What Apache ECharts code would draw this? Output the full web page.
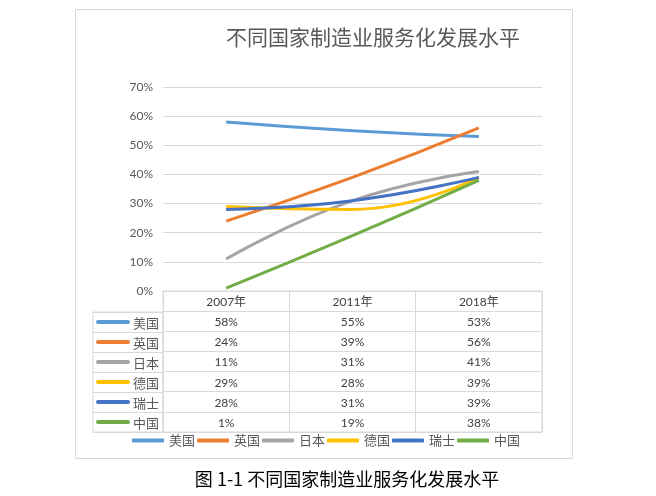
<!DOCTYPE html>
<html><head><meta charset="utf-8">
<script src="https://cdn.jsdelivr.net/npm/echarts@6/dist/echarts.min.js"></script>
<style>html,body{margin:0;padding:0;background:#fff}#c{width:656px;height:496px}</style>
</head><body><div id="c"></div>
<script>
const categories = ['2007年', '2011年', '2018年'];
const countries = ['美国', '英国', '日本', '德国', '瑞士', '中国'];
const usa = [58, 55, 53];
const uk = [24, 39, 56];
const japan = [11, 31, 41];
const germany = [29, 28, 39];
const swiss = [28, 31, 39];
const china = [1, 19, 38];
const yMin = 0, yMax = 70, yStep = 10;
const colors = ['#5B9BD5', '#ED7D31', '#A5A5A5', '#FFC000', '#4472C4', '#70AD47'];
const seriesValues = [usa, uk, japan, germany, swiss, china];

const FONT = 'Lato, "Noto Sans CJK SC", sans-serif';
const CJK = '"Noto Sans CJK SC", sans-serif';
const GRID_LINE = '#d9d9d9';

// table cells
const cellData = [], cellText = [];
categories.forEach((c, i) => { cellData.push([i, 0]); cellText.push(c); });
seriesValues.forEach((vals, r) => vals.forEach((v, i) => { cellData.push([i, r + 1]); cellText.push(v + '%'); }));
const rowData = countries.map((c, r) => [0, r]);

const chart = echarts.init(document.getElementById('c'), null, {renderer: 'canvas'});
chart.setOption({
  animation: false,
  backgroundColor: '#fff',
  color: colors,
  title: {
    text: '不同国家制造业服务化发展水平',
    left: 221, top: 22,
    textStyle: {fontSize: 21, fontWeight: 'normal', color: '#595959', fontFamily: CJK}
  },
  legend: {
    data: countries,
    left: 127, top: 429,
    icon: 'roundRect', itemWidth: 32, itemHeight: 4, itemGap: 2,
    textStyle: {fontSize: 13, color: '#595959', fontFamily: CJK}
  },
  grid: [
    {left: 163, width: 379, top: 87, height: 204},
    {left: 163, width: 379, top: 291, height: 141, show: true, borderColor: GRID_LINE, borderWidth: 1},
    {left: 93, width: 70, top: 312, height: 120, show: true, borderColor: GRID_LINE, borderWidth: 1}
  ],
  xAxis: [
    {gridIndex: 0, type: 'category', data: categories, boundaryGap: true,
     axisLine: {show: true, lineStyle: {color: GRID_LINE}}, axisTick: {show: false}, axisLabel: {show: false}},
    {gridIndex: 1, type: 'category', data: categories, boundaryGap: true,
     axisLine: {show: false}, axisTick: {show: false}, axisLabel: {show: false},
     splitLine: {show: true, lineStyle: {color: GRID_LINE}}},
    {gridIndex: 2, type: 'category', data: [''], boundaryGap: true,
     axisLine: {show: false}, axisTick: {show: false}, axisLabel: {show: false}, splitLine: {show: false}}
  ],
  yAxis: [
    {gridIndex: 0, type: 'value', min: yMin, max: yMax, interval: yStep,
     axisLine: {show: false}, axisTick: {show: false},
     axisLabel: {formatter: v => v + '%', color: '#595959', fontSize: 12, fontFamily: FONT, margin: 10},
     splitLine: {lineStyle: {color: GRID_LINE}}},
    {gridIndex: 1, type: 'category', data: [''].concat(countries), inverse: true, boundaryGap: true,
     axisLine: {show: false}, axisTick: {show: false}, axisLabel: {show: false},
     splitLine: {show: true, lineStyle: {color: GRID_LINE}}},
    {gridIndex: 2, type: 'category', data: countries, inverse: true, boundaryGap: true,
     axisLine: {show: false}, axisTick: {show: false}, axisLabel: {show: false},
     splitLine: {show: true, lineStyle: {color: GRID_LINE}}}
  ],
  series: countries.map((name, k) => ({
    name, type: 'line', xAxisIndex: 0, yAxisIndex: 0,
    data: seriesValues[k], smooth: true, symbol: 'none',
    lineStyle: {width: 3, color: colors[k]}
  })).concat([
    {type: 'custom', xAxisIndex: 1, yAxisIndex: 1, data: cellData, silent: true,
     renderItem: (params, api) => {
       const p = api.coord([api.value(0), api.value(1)]);
       return {type: 'text', x: p[0], y: p[1] + 1,
         style: {text: cellText[params.dataIndex], align: 'center', verticalAlign: 'middle',
           fill: '#404040', fontSize: 12, fontFamily: FONT}};
     }},
    {type: 'custom', xAxisIndex: 2, yAxisIndex: 2, data: rowData, silent: true,
     renderItem: (params, api) => {
       const p = api.coord([api.value(0), api.value(1)]);
       const s = api.size([1, 1]);
       const left = p[0] - s[0] / 2;
       const r = params.dataIndex;
       return {type: 'group', children: [
         {type: 'line', shape: {x1: left + 5, y1: p[1], x2: left + 35, y2: p[1]},
          style: {stroke: colors[r], lineWidth: 4, lineCap: 'round'}},
         {type: 'text', x: left + 40, y: p[1] + 1,
          style: {text: countries[r], align: 'left', verticalAlign: 'middle', fill: '#595959', fontSize: 13, fontFamily: CJK}}
       ]};
     }}
  ]),
  graphic: [
    {type: 'rect', shape: {x: 75.5, y: 9.5, width: 497, height: 449}, style: {fill: 'none', stroke: GRID_LINE, lineWidth: 1}, z: -10},
    {type: 'text', x: 347, y: 479, style: {text: '图 1-1 不同国家制造业服务化发展水平', align: 'center', verticalAlign: 'middle', fill: '#000', fontSize: 18, fontFamily: CJK}}
  ]
});
</script></body></html>
